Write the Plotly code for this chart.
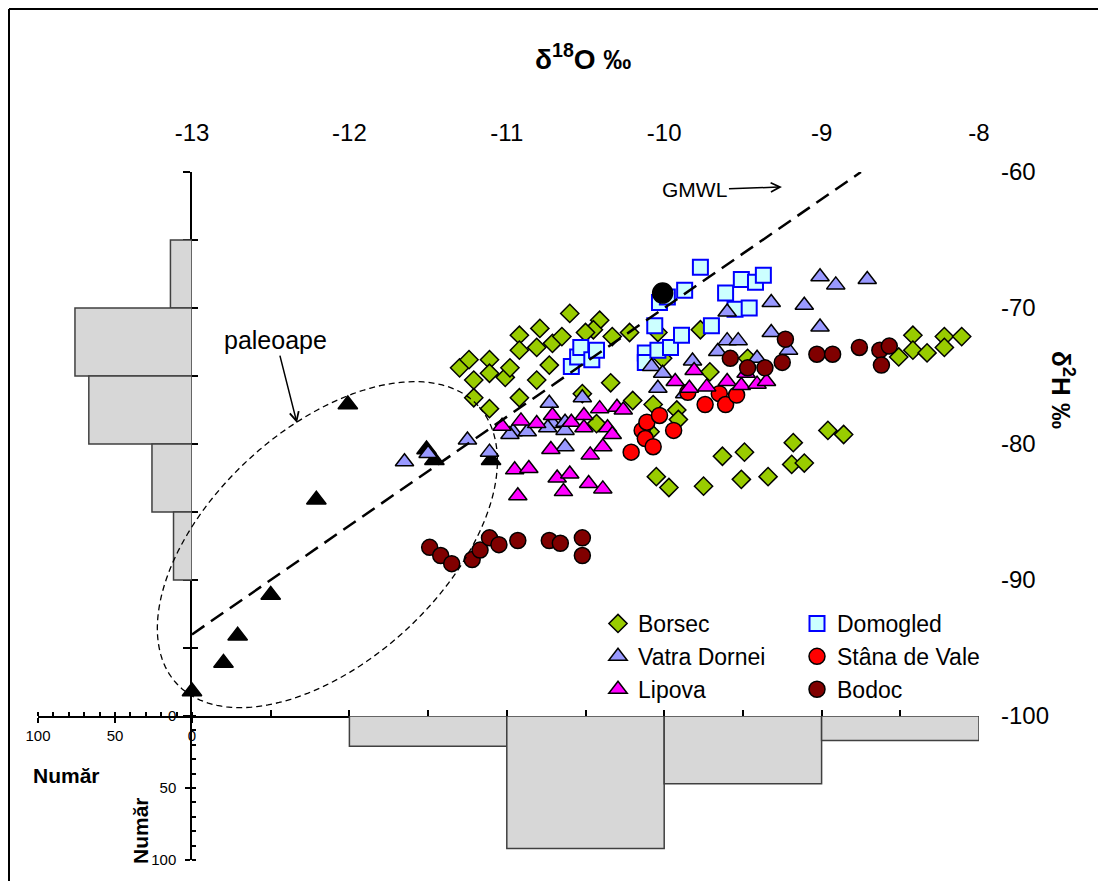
import numpy as np
import plotly.graph_objects as go

W, H = 1106, 881
FONT = "Arial, Liberation Sans, sans-serif"

# ---------------- data ----------------
borsec_x = [-11.30, -11.24, -11.11, -11.21, -11.11, -11.01, -10.98, -11.21, -11.11, -10.92,
            -10.92, -10.79, -10.92, -10.81, -10.71, -10.65, -10.73, -10.81, -10.60, -10.41,
            -10.45, -10.50, -10.33, -10.22, -10.34, -10.52, -10.20, -10.43, -10.04, -9.77,
            -10.01, -9.71, -9.47, -10.07, -9.92, -9.91, -10.09, -10.05, -9.97, -9.75,
            -9.51, -9.63, -9.49, -9.34, -9.19, -9.11, -9.18, -8.96, -8.86, -8.51,
            -8.42, -8.42, -8.33, -8.22, -8.22, -8.11]
borsec_y = [-74.4, -73.8, -73.8, -75.3, -74.8, -75.1, -74.4, -76.6, -77.4, -76.6,
            -72.0, -71.5, -73.1, -72.9, -72.6, -72.1, -74.2, -75.3, -70.4, -70.9,
            -71.6, -71.8, -72.1, -71.8, -75.5, -76.3, -76.8, -78.5, -71.8, -71.6,
            -73.7, -74.7, -73.7, -77.1, -77.5, -78.2, -79.1, -82.4, -83.2, -83.1,
            -82.6, -80.9, -80.6, -82.4, -81.5, -81.4, -79.9, -79.0, -79.3, -73.6,
            -72.0, -73.1, -73.3, -72.1, -72.9, -72.1]

vatra_x = [-11.65, -11.50, -11.25, -11.11, -10.96, -10.87, -10.98, -10.73, -10.71, -10.74,
           -10.63, -10.63, -10.63, -10.52, -10.08, -10.01, -10.04, -9.87, -9.82, -9.66,
           -9.60, -9.60, -9.53, -9.41, -9.32, -9.32, -9.21, -9.11, -9.01, -9.01,
           -8.91, -8.71]
vatra_y = [-81.3, -80.7, -79.7, -80.6, -79.1, -79.1, -79.3, -77.0, -78.5, -78.8,
           -78.4, -79.0, -80.2, -76.6, -74.3, -74.8, -75.9, -76.3, -73.9, -73.2,
           -70.3, -72.4, -72.4, -73.7, -69.6, -71.8, -73.1, -69.8, -71.4, -67.7,
           -68.3, -67.9]

lipova_x = [-11.03, -10.91, -10.81, -10.71, -10.59, -10.51, -10.51, -10.41, -10.36, -10.33,
            -10.30, -10.26, -10.39, -10.47, -10.72, -10.95, -10.86, -10.68, -10.60, -10.48,
            -10.39, -10.64, -10.93, -9.93, -9.81, -9.84, -9.73, -9.60, -9.51, -9.41,
            -9.48, -9.35]
lipova_y = [-78.7, -78.3, -78.5, -77.9, -78.4, -77.9, -78.8, -77.4, -78.8, -79.3,
            -77.3, -77.5, -80.2, -80.8, -80.4, -81.9, -81.8, -82.5, -82.2, -82.9,
            -83.3, -83.5, -83.8, -75.4, -74.6, -75.9, -75.8, -75.4, -75.7, -75.6,
            -74.8, -75.4]

domogled_x = [-10.59, -10.55, -10.53, -10.46, -10.43, -10.12, -10.12, -10.06, -10.03, -9.98,
              -9.87, -9.77, -10.04, -9.96, -9.89, -9.70, -9.61, -9.55, -9.51, -9.46,
              -9.42, -9.37]
domogled_y = [-74.3, -73.6, -72.9, -73.8, -73.1, -73.3, -74.0, -71.3, -69.6, -69.2,
              -68.7, -67.0, -73.1, -72.9, -72.0, -71.3, -68.9, -70.1, -67.9, -70.0,
              -68.1, -67.6]

stana_x = [-10.21, -10.14, -10.11, -10.12, -10.07, -10.03, -9.94, -9.85, -9.74, -9.65, -9.61, -9.54]
stana_y = [-80.6, -79.0, -78.4, -79.6, -80.2, -77.9, -79.0, -76.2, -77.1, -76.3, -77.1, -76.4]

bodoc_x = [-11.49, -11.42, -11.35, -11.22, -11.17, -11.11, -11.05, -10.93, -10.73, -10.66,
           -10.52, -10.52, -9.58, -9.47, -9.36, -9.25, -9.23, -9.03, -8.93, -8.76,
           -8.63, -8.57, -8.62]
bodoc_y = [-87.6, -88.2, -88.8, -88.5, -87.8, -86.9, -87.4, -87.1, -87.1, -87.3,
           -86.9, -88.2, -73.7, -74.4, -74.4, -74.0, -72.3, -73.4, -73.4, -72.9,
           -73.1, -72.8, -74.2]

paleo_x = [-12.01, -12.21, -12.50, -12.71, -12.80, -13.00, -11.51, -11.46, -11.10]
paleo_y = [-77.1, -84.1, -91.1, -94.1, -96.1, -98.2, -80.4, -81.2, -81.2]

black_circle_x = [-10.01]
black_circle_y = [-68.9]

gmwl_x = [-13.0, -8.75]
gmwl_y = [-94.0, -60.0]

# tick labels
o18_ticks = [-13, -12, -11, -10, -9, -8]
o18_tick_labels = ["-13", "-12", "-11", "-10", "-9", "-8"]
h2_ticks = [-100, -90, -80, -70, -60]
h2_tick_labels = ["-100", "-90", "-80", "-70", "-60"]

# histogram of delta 18O (bins of 1 permil)
o18_bin_centers = [-11.5, -10.5, -9.5, -8.5]
o18_counts = [21, 92, 47, 17]
# histogram of delta 2H (bins of 5 permil)
h2_bin_centers = [-67.5, -72.5, -77.5, -82.5, -87.5]
h2_counts = [14, 76, 67, 26, 12]

# ellipse ("paleoape") outline: center (data units), semi-axes (px), rotation
ell_center = (-12.14, -87.4)
ell_semi_px = (205.0, 116.0)
ell_angle_deg = 42.65

# ---------------- layout helpers ----------------
OFF = 8  # page body margin of the browser


def fx(px):
    return (px - OFF) / W


def fy(py):
    return (H - (py - OFF)) / H


X0, X1 = 192, 979
Y0, Y1 = 172, 716
HX0 = 38
HY1 = 860

fig = go.Figure()

BAR_FILL = "#d7d7d7"
BAR_LINE = "#404040"

fig.add_trace(go.Bar(
    x=h2_counts, y=h2_bin_centers, width=5, orientation="h",
    xaxis="x2", yaxis="y", showlegend=False,
    marker=dict(color=BAR_FILL, line=dict(color=BAR_LINE, width=1.5)),
))
fig.add_trace(go.Bar(
    x=o18_bin_centers, y=o18_counts, width=1,
    xaxis="x", yaxis="y3", showlegend=False,
    marker=dict(color=BAR_FILL, line=dict(color=BAR_LINE, width=1.5)),
))


def mk(symbol, size, color, lcolor="black", lw=1.5):
    return dict(symbol=symbol, size=size, color=color, line=dict(color=lcolor, width=lw))


fig.add_trace(go.Scatter(x=paleo_x, y=paleo_y, mode="markers", name="paleoape",
                         marker=mk("triangle-up", 17, "black"), showlegend=False,
                         cliponaxis=False))
fig.add_trace(go.Scatter(x=borsec_x, y=borsec_y, mode="markers", name="Borsec",
                         marker=mk("diamond", 14, "#99cc00"), legend="legend",
                         cliponaxis=False))
fig.add_trace(go.Scatter(x=domogled_x, y=domogled_y, mode="markers", name="Domogled",
                         marker=mk("square", 15, "#ccffff", "#0000ff", 2), legend="legend2",
                         cliponaxis=False))
fig.add_trace(go.Scatter(x=vatra_x, y=vatra_y, mode="markers", name="Vatra Dornei",
                         marker=mk("triangle-up", 16, "#9999ff"), legend="legend",
                         cliponaxis=False))
fig.add_trace(go.Scatter(x=stana_x, y=stana_y, mode="markers", name="Stâna de Vale",
                         marker=mk("circle", 16, "#ff0000"), legend="legend2",
                         cliponaxis=False))
fig.add_trace(go.Scatter(x=lipova_x, y=lipova_y, mode="markers", name="Lipova",
                         marker=mk("triangle-up", 16, "#ff00ff"), legend="legend",
                         cliponaxis=False))
# drawn on overlay axes (same ranges) so that those axes are rendered
fig.add_trace(go.Scatter(x=bodoc_x, y=bodoc_y, mode="markers", name="Bodoc",
                         xaxis="x", yaxis="y6",
                         marker=mk("circle", 16, "#800000"), legend="legend2",
                         cliponaxis=False))
fig.add_trace(go.Scatter(x=black_circle_x, y=black_circle_y, mode="markers", name="",
                         xaxis="x", yaxis="y4",
                         marker=mk("circle", 20, "black"), showlegend=False,
                         cliponaxis=False))
fig.add_trace(go.Scatter(x=gmwl_x, y=gmwl_y, mode="lines", name="GMWL", showlegend=False,
                         xaxis="x5", yaxis="y",
                         line=dict(color="black", width=2.5, dash="15px,8px"),
                         cliponaxis=False))

# ellipse path in paper coordinates (not clipped by the plot area)
x_unit_px = (X1 - X0) / 5.0
y_unit_px = (Y1 - Y0) / 40.0
cpx = X0 + (ell_center[0] + 13.0) * x_unit_px
cpy = Y0 + (-60.0 - ell_center[1]) * y_unit_px
t = np.linspace(0, 2 * np.pi, 181)
th = np.radians(ell_angle_deg)
a, b = ell_semi_px
dxp = a * np.cos(t) * np.cos(th) - b * np.sin(t) * np.sin(th)
dyp = a * np.cos(t) * np.sin(th) + b * np.sin(t) * np.cos(th)
epx = cpx + dxp
epy = cpy - dyp
path = "M " + " L ".join(f"{fx(u):.5f},{fy(v):.5f}" for u, v in zip(epx, epy)) + " Z"

axis_common = dict(showgrid=False, zeroline=False, linecolor="black", tickcolor="black")

fig.update_layout(
    width=W, height=H, autosize=False,
    margin=dict(l=0, r=0, t=0, b=0, pad=0, autoexpand=False),
    paper_bgcolor="white", plot_bgcolor="rgba(0,0,0,0)",
    font=dict(family=FONT, color="black", size=20),
    barmode="overlay",
    xaxis=dict(domain=[fx(X0), fx(X1)], range=[-13, -8], anchor="y",
               showline=True, linewidth=1.5, ticks="inside", ticklen=6, tickwidth=1.5,
               tick0=-13, dtick=0.5, showticklabels=False, **axis_common),
    xaxis5=dict(overlaying="x", range=[-13, -8], anchor="free", position=fy(146), side="top",
                showline=False, ticks="", tickvals=o18_ticks, ticktext=o18_tick_labels,
                showticklabels=True, tickfont=dict(size=24), **axis_common),
    xaxis2=dict(domain=[fx(HX0), fx(X0)], range=[100, 0], anchor="y", side="bottom",
                showline=True, linewidth=1.5, ticks="outside", ticklen=5, tickwidth=1.5,
                tickvals=[0, 50, 100], tickfont=dict(size=15),
                minor=dict(dtick=10, tick0=0, ticks="inside", ticklen=4, tickcolor="black", tickwidth=1.5),
                **axis_common),
    yaxis=dict(domain=[fy(Y1), fy(Y0)], range=[-100, -60], anchor="x",
               showline=True, linewidth=1.5, ticks="outside", ticklen=7, tickwidth=1.5,
               tick0=-100, dtick=5, showticklabels=False, **axis_common),
    yaxis6=dict(overlaying="y", range=[-100, -60], anchor="x", side="left",
                showline=False, ticks="inside", ticklen=6, tickwidth=1.5,
                tick0=-100, dtick=5, showticklabels=False, **axis_common),
    yaxis4=dict(overlaying="y", range=[-100, -60], anchor="free", position=fx(1000), side="right",
                showline=False, ticks="", tickvals=h2_ticks, ticktext=h2_tick_labels,
                showticklabels=True, tickfont=dict(size=24), **axis_common),
    yaxis3=dict(domain=[fy(HY1), fy(Y1)], range=[100, 0], anchor="x", side="left",
                showline=True, linewidth=1.5, ticks="outside", ticklen=5, tickwidth=1.5,
                tickvals=[0, 50, 100], tickfont=dict(size=15), ticklabelstandoff=6,
                minor=dict(dtick=10, tick0=0, ticks="inside", ticklen=4, tickcolor="black", tickwidth=1.5),
                **axis_common),
    legend=dict(x=fx(598), y=fy(602), xanchor="left", yanchor="top",
                font=dict(size=23), bgcolor="rgba(0,0,0,0)", tracegroupgap=0,
                itemclick=False, itemdoubleclick=False),
    legend2=dict(x=fx(797), y=fy(602), xanchor="left", yanchor="top",
                 font=dict(size=23), bgcolor="rgba(0,0,0,0)", tracegroupgap=0,
                 itemclick=False, itemdoubleclick=False),
    shapes=[
        dict(type="path", path=path, xref="paper", yref="paper", layer="above",
             line=dict(color="black", width=1.3, dash="6px,4px")),
        # chart-area frame (left and top edges are visible in the reference crop)
        dict(type="line", xref="paper", yref="paper", x0=fx(9), x1=fx(9), y0=-0.02, y1=fy(9),
             line=dict(color="black", width=2), layer="above"),
        dict(type="line", xref="paper", yref="paper", x0=fx(9), x1=1.02, y0=fy(9), y1=fy(9),
             line=dict(color="black", width=2), layer="above"),
    ],
    annotations=[
        dict(text="<b>δ<sup>18</sup>O ‰</b>", x=fx(583), y=fy(57), xref="paper", yref="paper",
             showarrow=False, font=dict(size=28), xanchor="center", yanchor="middle"),
        dict(text="<b>δ<sup>2</sup>H ‰</b>", x=fx(1063), y=fy(390), xref="paper", yref="paper",
             showarrow=False, font=dict(size=26), textangle=90, xanchor="center", yanchor="middle"),
        dict(text="<b>Număr</b>", x=fx(66), y=fy(775), xref="paper", yref="paper",
             showarrow=False, font=dict(size=21), xanchor="center", yanchor="middle"),
        dict(text="<b>Număr</b>", x=fx(140), y=fy(831), xref="paper", yref="paper",
             showarrow=False, font=dict(size=21), textangle=-90, xanchor="center", yanchor="middle"),
        dict(text="GMWL", x=-9.252, y=-61.10, xref="x", yref="y", ax=-87, ay=3,
             showarrow=True, arrowhead=5, arrowsize=1.2, arrowwidth=1.5, arrowcolor="black",
             font=dict(size=21)),
        dict(text="paleoape", x=-12.333, y=-78.46, xref="x", yref="y", ax=-21, ay=-83,
             showarrow=True, arrowhead=5, arrowsize=1.2, arrowwidth=1.5, arrowcolor="black",
             font=dict(size=25)),
    ],
)

fig.write_html("out.html")
